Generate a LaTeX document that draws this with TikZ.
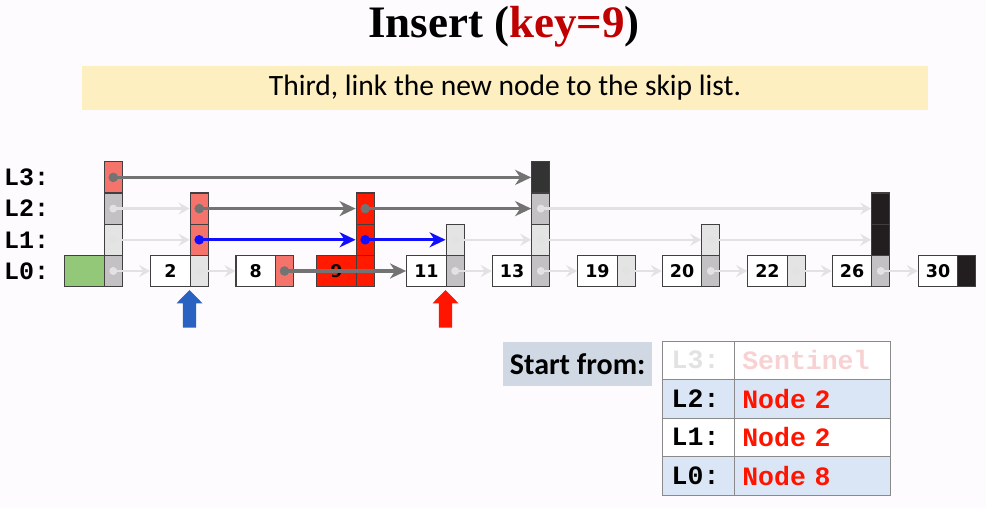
\documentclass[tikz,border=0pt]{standalone}
\usepackage{fontspec}
\usetikzlibrary{arrows.meta}
\newfontfamily\titlefont{Liberation Serif}
\newfontfamily\bodyfont{Carlito}
\newfontfamily\codefont{Liberation Mono}
\newfontfamily\numfont{DejaVu Sans}

\definecolor{bgc}{RGB}{253,251,253}
\definecolor{salmon}{RGB}{244,115,107}
\definecolor{newred}{RGB}{255,26,0}
\definecolor{midgray}{RGB}{195,193,195}
\definecolor{lightcell}{RGB}{228,228,228}
\definecolor{darkcell}{RGB}{51,51,51}
\definecolor{blackcell}{RGB}{34,30,32}
\definecolor{greencell}{RGB}{146,200,120}
\definecolor{arrgray}{RGB}{115,115,115}
\definecolor{arrblue}{RGB}{16,16,255}
\definecolor{arrlight}{RGB}{226,226,226}
\definecolor{banner}{RGB}{253,239,192}
\definecolor{startbg}{RGB}{208,216,228}
\definecolor{rowblue}{RGB}{218,230,245}
\definecolor{titlered}{RGB}{192,0,0}
\definecolor{upblue}{RGB}{42,98,194}
\definecolor{upred}{RGB}{255,21,0}
\definecolor{textred}{RGB}{255,20,0}
\definecolor{fadegray}{RGB}{226,226,226}
\definecolor{fadepink}{RGB}{248,210,210}
\definecolor{tableline}{RGB}{138,138,138}

% key box and pointer cells of one skip-list node
\newcommand\keybox[4]{\node[valcell,fill=#4] (v#1) at ({#2+19.75},271) {#3};}
\newcommand\ptrbox[4]{\node[ptrcell,fill=#4] (p#1L#3) at ({#2+48.5},{271-31.2*#3}) {};}

\begin{document}
\begin{tikzpicture}[x=1pt,y=-1pt,
  cellbase/.style={draw=black!75, line width=1.2pt, inner sep=0pt, minimum height=31.2pt},
  valcell/.style={cellbase, minimum width=39.5pt, font=\numfont\bfseries\fontsize{17.5}{17.5}\selectfont},
  ptrcell/.style={cellbase, minimum width=18pt},
  link/.style={line width=3.2pt, -{Stealth[length=16pt,width=15pt,inset=5pt]}},
  grayarr/.style={link, arrgray},
  bluearr/.style={link, arrblue},
  lightarr/.style={line width=2.6pt, arrlight, -{Stealth[length=11pt,width=12pt,inset=4pt]}},
  lvl/.style={anchor=west, inner sep=0pt, font=\codefont\bfseries\fontsize{25}{25}\selectfont},
  tcell/.style={draw=tableline, line width=1pt, minimum height=38.5pt, inner ysep=0pt, align=left,
    font=\codefont\bfseries\fontsize{26.5}{26.5}\selectfont},
  tkey/.style={tcell, text width=53.6pt, inner xsep=9pt},
  tval/.style={tcell, text width=139.7pt, inner xsep=8pt},
]
\fill[bgc] (0,0) rectangle (986,508);
\useasboundingbox (0,0) rectangle (986,508);

% title and caption
\node[anchor=base, inner sep=0pt, font=\titlefont\bfseries\fontsize{45}{45}\selectfont] (title)
  at (504,37.5) {Insert ({\color{titlered}key=9})};
\node[fill=banner, minimum width=846pt, minimum height=44pt, inner sep=0pt,
  font=\bodyfont\fontsize{29.5}{29.5}\selectfont] (caption) at (505,88)
  {Third, link the new node to the skip list.};

% level labels
\node[lvl] (lab3) at (4,177.4) {L3:};
\node[lvl] (lab2) at (4,208.6) {L2:};
\node[lvl] (lab1) at (4,239.8) {L1:};
\node[lvl] (lab0) at (4,271) {L0:};

% sentinel
\keybox{S}{64.8}{}{greencell}
\ptrbox{S}{64.8}{0}{midgray}
\ptrbox{S}{64.8}{1}{lightcell}
\ptrbox{S}{64.8}{2}{midgray}
\ptrbox{S}{64.8}{3}{salmon}
% node 2
\keybox{2}{150.7}{2}{white}
\ptrbox{2}{150.7}{0}{lightcell}
\ptrbox{2}{150.7}{1}{salmon}
\ptrbox{2}{150.7}{2}{salmon}
% node 8
\keybox{8}{236}{8}{white}
\ptrbox{8}{236}{0}{salmon}
% node 9 (new)
\keybox{9}{316.7}{9}{newred}
\ptrbox{9}{316.7}{0}{newred}
\ptrbox{9}{316.7}{1}{newred}
\ptrbox{9}{316.7}{2}{newred}
% node 11
\keybox{11}{406.7}{11}{white}
\ptrbox{11}{406.7}{0}{midgray}
\ptrbox{11}{406.7}{1}{lightcell}
% node 13
\keybox{13}{492.3}{13}{white}
\ptrbox{13}{492.3}{0}{midgray}
\ptrbox{13}{492.3}{1}{lightcell}
\ptrbox{13}{492.3}{2}{midgray}
\ptrbox{13}{492.3}{3}{darkcell}
% node 19
\keybox{19}{577.7}{19}{white}
\ptrbox{19}{577.7}{0}{lightcell}
% node 20
\keybox{20}{662.3}{20}{white}
\ptrbox{20}{662.3}{0}{midgray}
\ptrbox{20}{662.3}{1}{lightcell}
% node 22
\keybox{22}{747.7}{22}{white}
\ptrbox{22}{747.7}{0}{lightcell}
% node 26
\keybox{26}{832.3}{26}{white}
\ptrbox{26}{832.3}{0}{midgray}
\ptrbox{26}{832.3}{1}{blackcell}
\ptrbox{26}{832.3}{2}{blackcell}
% node 30
\keybox{30}{918.3}{30}{white}
\ptrbox{30}{918.3}{0}{blackcell}

% level 3
\draw[grayarr] (pSL3.center) -- (p13L3.west);
% level 2
\draw[lightarr] (pSL2.center) -- (p2L2.west);
\draw[grayarr] (p2L2.center) -- (p9L2.west);
\draw[grayarr] (p9L2.center) -- (p13L2.west);
\draw[lightarr] (p13L2.center) -- (p26L2.west);
% level 1
\draw[lightarr] (pSL1.center) -- (p2L1.west);
\draw[bluearr] (p2L1.center) -- (p9L1.west);
\draw[bluearr] (p9L1.center) -- (p11L1.west);
\draw[lightarr] (p11L1.center) -- (p13L1.west);
\draw[lightarr] (p13L1.center) -- (p20L1.west);
\draw[lightarr] (p20L1.center) -- (p26L1.west);
% level 0
\draw[lightarr] (pSL0.center) -- (v2.west);
\draw[lightarr] (p2L0.center) -- (v8.west);
\draw[grayarr] (p8L0.center) -- (v11.west);
\draw[lightarr] (p11L0.center) -- (v13.west);
\draw[lightarr] (p13L0.center) -- (v19.west);
\draw[lightarr] (p19L0.center) -- (v20.west);
\draw[lightarr] (p20L0.center) -- (v22.west);
\draw[lightarr] (p22L0.center) -- (v26.west);
\draw[lightarr] (p26L0.center) -- (v30.west);

% pointer dots
\foreach \c in {pSL3,p2L2,p9L2,p8L0} \fill[arrgray] (\c.center) circle (4.8pt);
\foreach \c in {p2L1,p9L1} \fill[arrblue] (\c.center) circle (4.8pt);
\foreach \c in {pSL2,pSL1,pSL0,p2L0,p13L2,p11L1,p13L1,p20L1,p11L0,p13L0,p19L0,p20L0,p22L0,p26L0}
  \fill[arrlight] (\c.center) circle (4pt);

% position markers
\fill[upblue] (189.5,290) -- (202.5,303.3) -- (196.2,303.3) -- (196.2,327.7)
  -- (182.8,327.7) -- (182.8,303.3) -- (176.5,303.3) -- cycle;
\fill[upred] (445.5,290) -- (458.5,303.3) -- (452.2,303.3) -- (452.2,327.7)
  -- (438.8,327.7) -- (438.8,303.3) -- (432.5,303.3) -- cycle;

% start table
\node[fill=startbg, minimum width=148.7pt, minimum height=44pt, inner sep=0pt,
  font=\bodyfont\bfseries\fontsize{30}{30}\selectfont] (start) at (577.7,363.7) {Start from:};
\node[tkey, fill=white, text=fadegray] (k3) at (698.5,360.25) {L3:};
\node[tval, fill=white, text=fadepink] (n3) at (812.15,360.25) {Sentinel};
\node[tkey, fill=rowblue] (k2) at (698.5,398.75) {L2:};
\node[tval, fill=rowblue, text=textred] (n2) at (812.15,398.75) {Node 2};
\node[tkey, fill=white] (k1) at (698.5,437.25) {L1:};
\node[tval, fill=white, text=textred] (n1) at (812.15,437.25) {Node 2};
\node[tkey, fill=rowblue] (k0) at (698.5,475.75) {L0:};
\node[tval, fill=rowblue, text=textred] (n0) at (812.15,475.75) {Node 8};
\end{tikzpicture}
\end{document}
